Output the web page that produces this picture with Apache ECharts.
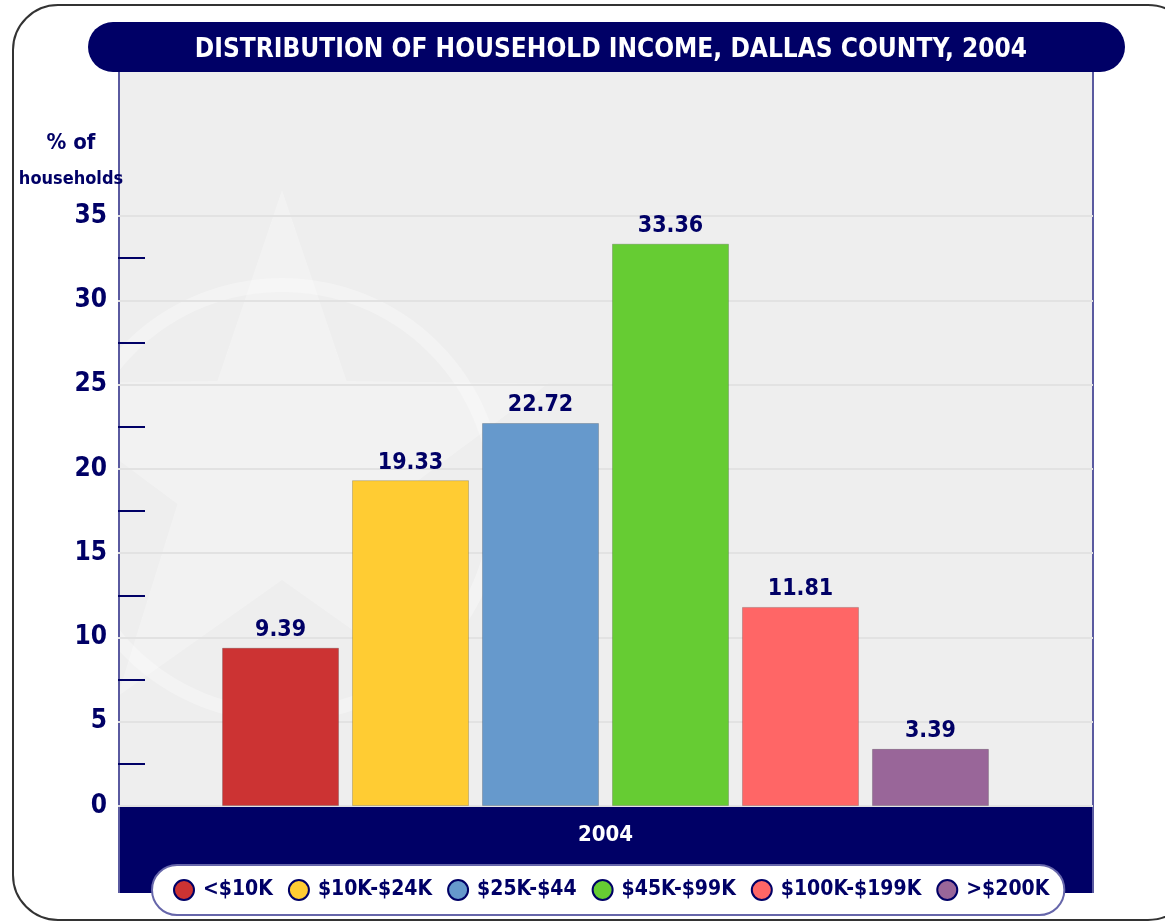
<!DOCTYPE html>
<html>
<head>
<meta charset="utf-8">
<script src="https://cdn.jsdelivr.net/npm/echarts@6/dist/echarts.min.js"></script>
<style>
html,body{margin:0;padding:0;background:#fff;}
#chart{width:1165px;height:924px;}
</style>
</head>
<body>
<div id="chart"></div>
<script>
const titleText = 'DISTRIBUTION OF HOUSEHOLD INCOME, DALLAS COUNTY, 2004';
const yAxisTitleLines = ['% of', 'households'];
const categories = ['2004'];
const seriesNames = ['<$10K', '$10K-$24K', '$25K-$44', '$45K-$99K', '$100K-$199K', '>$200K'];
const seriesValues = [9.39, 19.33, 22.72, 33.36, 11.81, 3.39];
const seriesColors = ['#cc3333', '#ffcc33', '#6699cc', '#66cc33', '#ff6666', '#996699'];
const yTicks = [0, 5, 10, 15, 20, 25, 30, 35];

const NAVY = '#000066';
const FONT = '"Liberation Sans Narrow", "DejaVu Sans Condensed", "Roboto", sans-serif';

const chart = echarts.init(document.getElementById('chart'), null, {renderer: 'canvas'});

const series = seriesNames.map((name, i) => ({
  name: name,
  type: 'bar',
  data: [seriesValues[i]],
  barWidth: 117,
  barGap: '11.1%',
  itemStyle: {color: seriesColors[i], borderColor: 'rgba(0,0,0,0.18)', borderWidth: 1},
  label: {
    show: true, position: 'top', distance: 6,
    color: NAVY, fontFamily: FONT, fontWeight: 'bold', fontSize: 23,
    formatter: p => p.value.toFixed(2)
  },
  z: 3
}));

// five-point star watermark outline (decoration)
function starPoints(cx, cy, R, r) {
  const pts = [];
  for (let k = 0; k < 10; k++) {
    const ang = -Math.PI / 2 + k * Math.PI / 5;
    const rad = k % 2 === 0 ? R : r;
    pts.push([cx + rad * Math.cos(ang), cy + rad * Math.sin(ang)]);
  }
  return pts;
}

chart.setOption({
  backgroundColor: '#ffffff',
  animation: false,
  title: [
    {text: titleText, left: 606, top: 32, textAlign: 'center',
     textStyle: {color: '#ffffff', fontFamily: FONT, fontWeight: 'bold', fontSize: 26}},
    {text: '{a|' + yAxisTitleLines[0] + '}\n{b|' + yAxisTitleLines[1] + '}', left: 66, top: 120, textAlign: 'center',
     textStyle: {color: NAVY, fontFamily: FONT, fontWeight: 'bold', align: 'center',
       rich: {
         a: {color: NAVY, fontFamily: FONT, fontWeight: 'bold', fontSize: 22, lineHeight: 36, align: 'center'},
         b: {color: NAVY, fontFamily: FONT, fontWeight: 'bold', fontSize: 18, lineHeight: 36, align: 'center'}
       }}}
  ],
  grid: {left: 118, right: 72, top: 216, bottom: 118, containLabel: false},
  xAxis: {
    type: 'category', data: categories,
    axisLine: {show: false}, axisTick: {show: false},
    axisLabel: {color: '#ffffff', fontFamily: FONT, fontWeight: 'bold', fontSize: 22, margin: 18}
  },
  yAxis: {
    type: 'value', min: 0, max: 35, interval: 5,
    axisLine: {show: false},
    axisTick: {show: false, inside: true},
    minorTick: {show: true, splitNumber: 2, length: 27, lineStyle: {color: NAVY, width: 2}},
    splitLine: {show: true, lineStyle: {color: '#e2e2e2', width: 2}},
    axisLabel: {color: NAVY, fontFamily: FONT, fontWeight: 'bold', fontSize: 26, margin: 11,
      formatter: v => (yTicks.indexOf(v) >= 0 ? String(v) : '')}
  },
  legend: {
    data: seriesNames,
    left: 152, top: 865,
    icon: 'circle', itemWidth: 20, itemHeight: 20, itemGap: 15,
    backgroundColor: '#ffffff', borderColor: '#6666aa', borderWidth: 2, borderRadius: 25,
    padding: [13, 15, 13, 21],
    itemStyle: {borderColor: NAVY, borderWidth: 2},
    textStyle: {color: NAVY, fontFamily: FONT, fontWeight: 'bold', fontSize: 21, lineHeight: 24, padding: [0, 0, 0, 4]}
  },
  graphic: [
    // outer rounded frame
    {type: 'rect', z: -20, shape: {x: 13, y: 5, width: 1180, height: 915, r: 45},
     style: {fill: '#ffffff', stroke: '#333333', lineWidth: 2}},
    // plot panel
    {type: 'rect', z: -15, shape: {x: 118, y: 72, width: 975, height: 734},
     style: {fill: '#eeeeee'}},
    // faint watermark (seal ring + star)
    {type: 'circle', z: -14, shape: {cx: 282, cy: 500, r: 215},
     style: {fill: 'none', stroke: 'rgba(255,255,255,0.3)', lineWidth: 14}},
    {type: 'polygon', z: -14, shape: {points: starPoints(282, 470, 280, 110)},
     style: {fill: 'rgba(255,255,255,0.25)'}},
    // bottom navy band
    {type: 'rect', z: -12, shape: {x: 118, y: 806, width: 975, height: 87},
     style: {fill: NAVY}},
    // panel side borders
    {type: 'line', z: -11, shape: {x1: 119, y1: 72, x2: 119, y2: 893},
     style: {stroke: '#5a5aa0', lineWidth: 2}},
    {type: 'line', z: -11, shape: {x1: 1093, y1: 72, x2: 1093, y2: 893},
     style: {stroke: '#5a5aa0', lineWidth: 2}},
    // title banner
    {type: 'rect', z: -10, shape: {x: 88, y: 22, width: 1037, height: 50, r: 25},
     style: {fill: NAVY}}
  ],
  series: series
});
</script>
</body>
</html>
